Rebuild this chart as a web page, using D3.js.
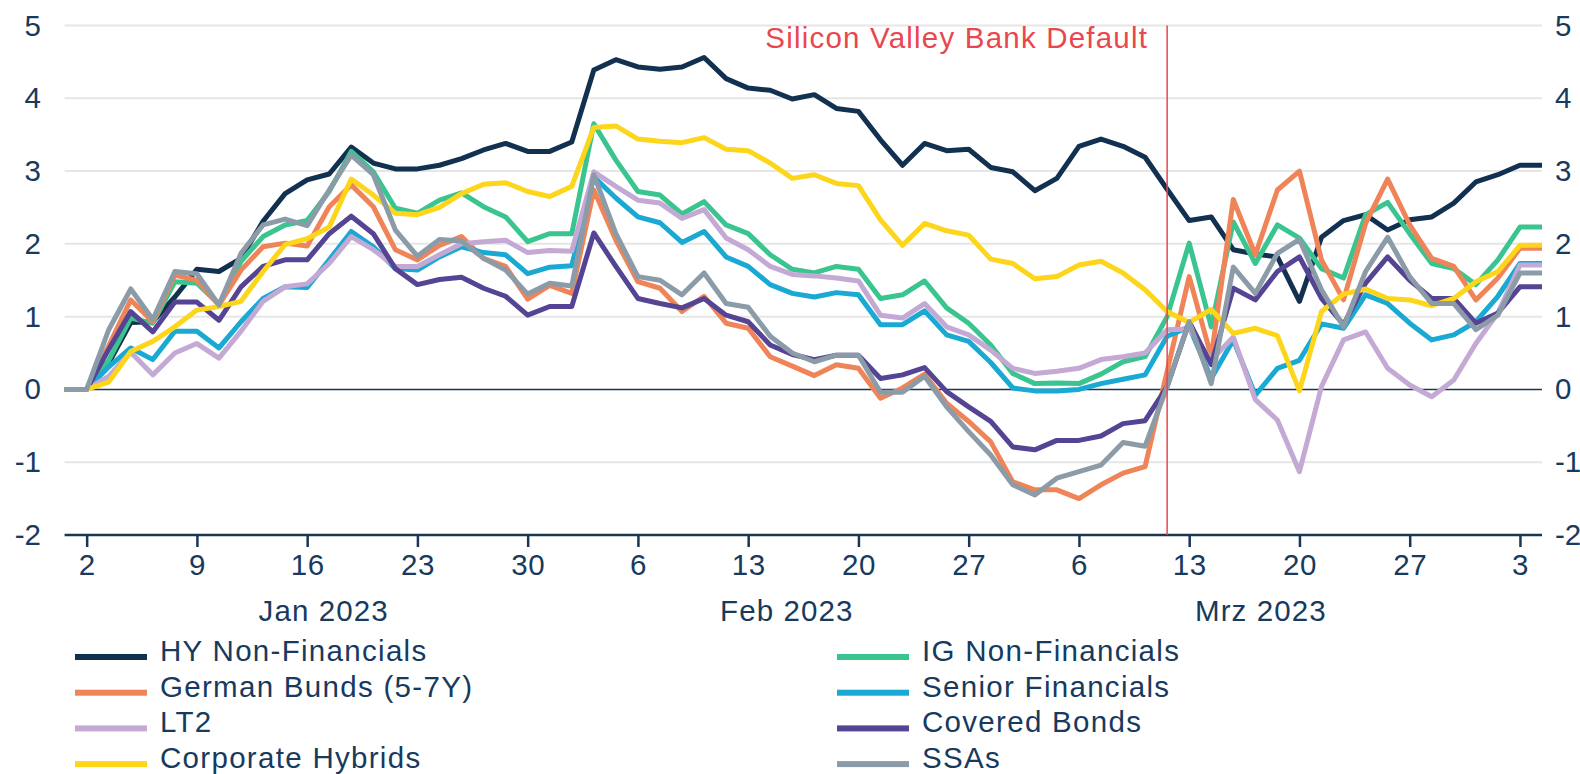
<!DOCTYPE html>
<meta charset="utf-8">
<title>Spread performance 2023</title>
<style>
  body { margin: 0; background: #fff; }
  text { font-family: "Liberation Sans", Arial, sans-serif; }
</style>
<body>
<script src="https://cdn.jsdelivr.net/npm/d3@7"></script>
<script>

var width = 1580,
    height = 774;

// business days from 30 Dec 2022 to 4 Apr 2023
var dates = d3.timeDay.range(new Date(2022, 11, 30), new Date(2023, 3, 5))
    .filter(function(d) { return d.getDay() % 6 !== 0; });

var monthLabels = ["Jan 2023", "Feb 2023", "Mrz 2023"];
var yTicks = [-2, -1, 0, 1, 2, 3, 4, 5];
var eventLabel = "Silicon Valley Bank Default";
var eventDate = new Date(2023, 2, 10);

var names = ["HY Non-Financials", "IG Non-Financials", "German Bunds (5-7Y)", "Senior Financials",
             "LT2", "Covered Bonds", "Corporate Hybrids", "SSAs"];
var colors = ["#12304f", "#3ac48f", "#ef8459", "#19a9d3", "#c3a9d3", "#544493", "#fdd51a", "#8c9ba8"];

var hyNonFin = [0, 0, 0.36, 0.92, 0.93, 1.27, 1.65, 1.62, 1.80, 2.31, 2.69, 2.88, 2.96, 3.33, 3.11, 3.03, 3.03,
  3.08, 3.17, 3.29, 3.38, 3.27, 3.27, 3.40, 4.39, 4.53, 4.43, 4.40, 4.43, 4.56, 4.27, 4.14, 4.11, 3.99, 4.05,
  3.86, 3.82, 3.43, 3.08, 3.38, 3.28, 3.30, 3.05, 2.99, 2.73, 2.90, 3.34, 3.44, 3.34, 3.19, 2.75, 2.32, 2.37,
  1.92, 1.86, 1.82, 1.21, 2.09, 2.32, 2.40, 2.19, 2.33, 2.37, 2.56, 2.85, 2.95, 3.08, 3.08];
var igNonFin = [0, 0, 0.40, 0.98, 0.91, 1.48, 1.46, 1.17, 1.76, 2.10, 2.26, 2.32, 2.72, 3.27, 2.99, 2.49, 2.42,
  2.60, 2.70, 2.51, 2.37, 2.03, 2.14, 2.14, 3.65, 3.15, 2.72, 2.67, 2.41, 2.58, 2.26, 2.14, 1.85, 1.65, 1.60,
  1.69, 1.65, 1.25, 1.30, 1.49, 1.12, 0.91, 0.61, 0.22, 0.08, 0.09, 0.08, 0.21, 0.38, 0.45, 1.00, 2.01, 0.86,
  2.30, 1.73, 2.26, 2.08, 1.66, 1.53, 2.40, 2.57, 2.14, 1.73, 1.66, 1.44, 1.78, 2.23, 2.23];
var bunds = [0, 0, 0.60, 1.23, 0.93, 1.57, 1.50, 1.16, 1.64, 1.96, 2.01, 1.97, 2.51, 2.81, 2.51, 1.92, 1.78,
  1.98, 2.10, 1.80, 1.69, 1.24, 1.43, 1.32, 2.74, 2.05, 1.48, 1.39, 1.07, 1.28, 0.91, 0.84, 0.45, 0.32, 0.19,
  0.34, 0.29, -0.12, 0.02, 0.21, -0.19, -0.44, -0.72, -1.27, -1.38, -1.38, -1.50, -1.31, -1.15, -1.06, 0.25, 1.55, 0.45,
  2.61, 1.85, 2.74, 3.00, 1.78, 1.23, 2.28, 2.89, 2.26, 1.80, 1.69, 1.23, 1.53, 1.94, 1.94];
var seniorFin = [0, 0, 0.31, 0.57, 0.41, 0.80, 0.80, 0.57, 0.93, 1.25, 1.41, 1.40, 1.78, 2.17, 1.96, 1.66, 1.64,
  1.82, 1.96, 1.88, 1.85, 1.59, 1.68, 1.70, 2.92, 2.63, 2.37, 2.29, 2.02, 2.17, 1.82, 1.69, 1.44, 1.32, 1.27,
  1.33, 1.30, 0.89, 0.89, 1.08, 0.75, 0.66, 0.37, 0.02, -0.02, -0.02, 0, 0.08, 0.14, 0.20, 0.73, 0.86, 0.15,
  0.68, -0.08, 0.29, 0.40, 0.90, 0.84, 1.30, 1.18, 0.91, 0.68, 0.75, 0.93, 1.28, 1.73, 1.73];
var lt2 = [0, 0, 0.18, 0.51, 0.20, 0.50, 0.63, 0.43, 0.80, 1.21, 1.41, 1.45, 1.73, 2.10, 1.92, 1.69, 1.69,
  1.85, 2.00, 2.03, 2.05, 1.88, 1.91, 1.90, 2.99, 2.79, 2.60, 2.56, 2.35, 2.47, 2.08, 1.92, 1.69, 1.58, 1.56,
  1.53, 1.49, 1.02, 0.98, 1.18, 0.86, 0.75, 0.54, 0.29, 0.22, 0.25, 0.29, 0.41, 0.45, 0.50, 0.82, 0.83, 0.40,
  0.72, -0.14, -0.42, -1.13, 0.04, 0.68, 0.79, 0.29, 0.06, -0.10, 0.13, 0.63, 1.05, 1.71, 1.71];
var covered = [0, 0, 0.55, 1.07, 0.79, 1.20, 1.20, 0.95, 1.41, 1.69, 1.78, 1.78, 2.14, 2.38, 2.14, 1.66, 1.44,
  1.51, 1.54, 1.39, 1.28, 1.02, 1.14, 1.14, 2.15, 1.69, 1.25, 1.18, 1.12, 1.25, 1.02, 0.93, 0.61, 0.48, 0.41,
  0.47, 0.47, 0.15, 0.20, 0.30, -0.03, -0.24, -0.44, -0.79, -0.83, -0.70, -0.70, -0.64, -0.47, -0.43, 0.04, 0.93, 0.34,
  1.39, 1.23, 1.62, 1.82, 1.25, 0.89, 1.46, 1.82, 1.50, 1.25, 1.25, 0.91, 1.05, 1.41, 1.41];
var hybrids = [0, 0, 0.10, 0.52, 0.66, 0.86, 1.09, 1.14, 1.21, 1.62, 1.99, 2.07, 2.23, 2.89, 2.67, 2.42, 2.40,
  2.50, 2.69, 2.82, 2.84, 2.72, 2.65, 2.79, 3.60, 3.62, 3.44, 3.41, 3.39, 3.46, 3.30, 3.28, 3.11, 2.90, 2.95,
  2.83, 2.80, 2.33, 1.98, 2.28, 2.18, 2.12, 1.79, 1.73, 1.52, 1.55, 1.71, 1.76, 1.60, 1.37, 1.07, 0.92, 1.10,
  0.77, 0.84, 0.74, -0.02, 1.07, 1.31, 1.38, 1.25, 1.23, 1.15, 1.25, 1.48, 1.62, 1.98, 1.98];
var ssas = [0, 0, 0.82, 1.38, 0.96, 1.62, 1.59, 1.16, 1.87, 2.26, 2.34, 2.25, 2.74, 3.22, 2.95, 2.19, 1.83,
  2.06, 2.04, 1.80, 1.64, 1.31, 1.46, 1.42, 2.95, 2.14, 1.55, 1.50, 1.30, 1.60, 1.18, 1.13, 0.73, 0.50, 0.38,
  0.47, 0.47, -0.04, -0.04, 0.18, -0.24, -0.58, -0.90, -1.31, -1.45, -1.22, -1.13, -1.04, -0.73, -0.78, 0.04, 0.93, 0.08,
  1.68, 1.32, 1.87, 2.06, 1.37, 0.86, 1.62, 2.09, 1.55, 1.18, 1.18, 0.82, 1.02, 1.60, 1.60];

var seriesValues = [hyNonFin, igNonFin, bunds, seniorFin, lt2, covered, hybrids, ssas];

var textColor = "#173a5e";

var x = d3.scaleLinear()
    .domain([0, dates.length - 1])
    .range([64.6, 1542]);

var y = d3.scaleLinear()
    .domain([-2, 5])
    .range([535, 25.5]);

var svg = d3.select("body").append("svg")
    .attr("width", width)
    .attr("height", height);

// grid
svg.append("g").selectAll("line")
    .data(yTicks.filter(function(d) { return d !== 0 && d !== -2; }))
    .enter().append("line")
    .attr("x1", x(0)).attr("x2", x(dates.length - 1))
    .attr("y1", function(d) { return y(d); })
    .attr("y2", function(d) { return y(d); })
    .attr("stroke", "#e6e6e6")
    .attr("stroke-width", 2);

// y labels both sides
var yl = svg.append("g").attr("fill", textColor)
    .style("font-size", "29.5px");
yl.selectAll("text.l").data(yTicks).enter().append("text")
    .attr("class", "l")
    .attr("x", 41).attr("y", function(d) { return y(d) + 10; })
    .attr("text-anchor", "end")
    .text(function(d) { return d; });
yl.selectAll("text.r").data(yTicks).enter().append("text")
    .attr("class", "r")
    .attr("x", 1555).attr("y", function(d) { return y(d) + 10; })
    .text(function(d) { return d; });

// zero line
svg.append("line")
    .attr("x1", x(0)).attr("x2", x(dates.length - 1))
    .attr("y1", y(0)).attr("y2", y(0))
    .attr("stroke", "#1c3553")
    .attr("stroke-width", 1.5);

// bottom axis
var mondays = [];
dates.forEach(function(d, i) { if (d.getDay() === 1) mondays.push(i); });

var xAxis = d3.axisBottom(x)
    .tickValues(mondays)
    .tickSize(12)
    .tickPadding(7)
    .tickFormat(function(i) { return dates[i].getDate(); });

var gx = svg.append("g")
    .attr("transform", "translate(0," + y(-2) + ")")
    .call(xAxis);
gx.select(".domain").attr("stroke", "#1c3553").attr("stroke-width", 2.5)
    .attr("d", "M" + x(0) + ",0H" + x(dates.length - 1));
gx.selectAll(".tick line").attr("stroke", "#1c3553").attr("stroke-width", 2.5);
gx.selectAll(".tick text")
    .attr("fill", textColor)
    .style("font-size", "29.5px")
    .style("letter-spacing", "0.5px")
    .style("font-family", "'Liberation Sans', Arial, sans-serif");

// month labels
var monthStarts = [];
dates.forEach(function(d, i) {
  if (i === 0 || d.getMonth() !== dates[i - 1].getMonth()) monthStarts.push(i);
});
monthStarts = monthStarts.slice(1); // Jan, Feb, Mar, Apr
svg.append("g").selectAll("text")
    .data(monthLabels)
    .enter().append("text")
    .attr("x", function(d, k) {
      return (x(monthStarts[k] - 0.5) + x(monthStarts[k + 1])) / 2;
    })
    .attr("y", 621)
    .attr("text-anchor", "middle")
    .attr("fill", textColor)
    .style("font-size", "29.5px")
    .style("letter-spacing", "1.1px")
    .text(function(d) { return d; });

// lines
var line = d3.line()
    .x(function(d, i) { return x(i); })
    .y(function(d) { return y(d); });

svg.append("g").selectAll("path")
    .data(seriesValues)
    .enter().append("path")
    .attr("d", line)
    .attr("fill", "none")
    .attr("stroke", function(d, i) { return colors[i]; })
    .attr("stroke-width", 5)
    .attr("stroke-linejoin", "round");

// event marker
var evIndex = dates.findIndex(function(d) { return +d === +eventDate; });
svg.append("line")
    .attr("x1", x(evIndex)).attr("x2", x(evIndex))
    .attr("y1", y(5)).attr("y2", y(-2))
    .attr("stroke", "#e9474f")
    .attr("stroke-width", 1.5);
svg.append("text")
    .attr("x", x(evIndex) - 19)
    .attr("y", 48)
    .attr("text-anchor", "end")
    .attr("fill", "#e9474f")
    .style("font-size", "29.5px")
    .style("letter-spacing", "1.2px")
    .text(eventLabel);

// legend, two columns
var legend = svg.append("g").selectAll("g")
    .data(names)
    .enter().append("g")
    .attr("transform", function(d, i) {
      return "translate(" + (i % 2 ? 837 : 75) + "," + (661 + Math.floor(i / 2) * 35.7) + ")";
    });
legend.append("rect")
    .attr("x", 0).attr("y", -7)
    .attr("width", 72).attr("height", 6)
    .attr("fill", function(d, i) { return colors[i]; });
legend.append("text")
    .attr("x", 85).attr("y", 0)
    .attr("fill", textColor)
    .style("font-size", "29.5px")
    .style("letter-spacing", "1.3px")
    .text(function(d) { return d; });

</script>
